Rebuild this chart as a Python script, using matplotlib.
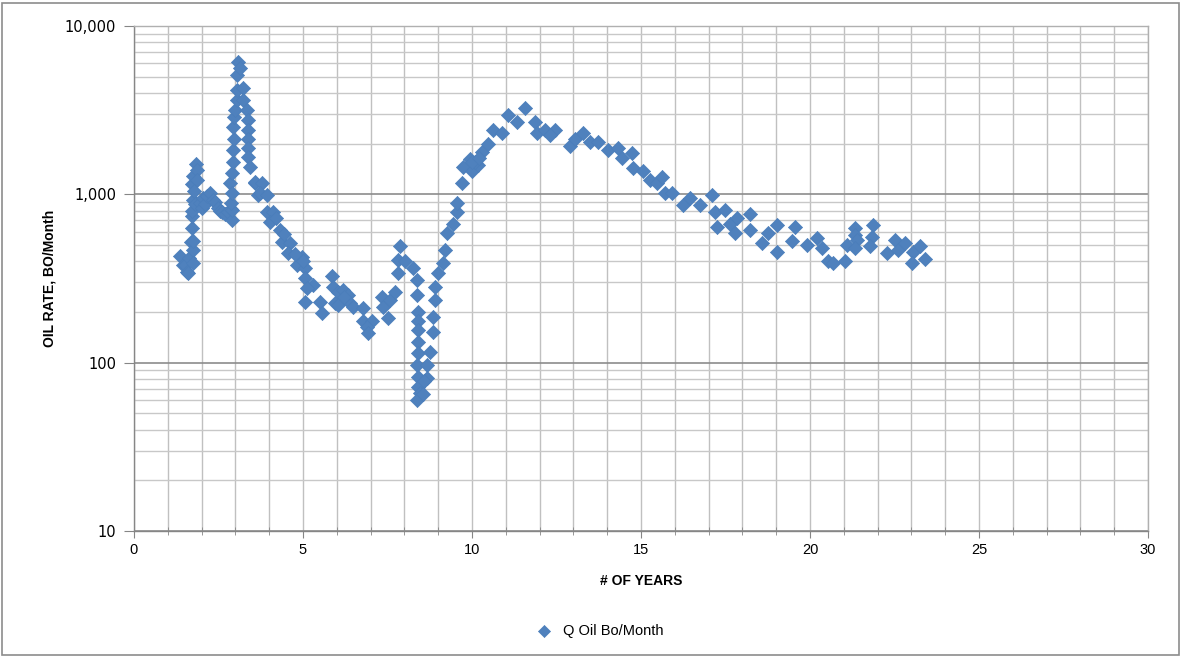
import matplotlib
matplotlib.use("Agg")
import matplotlib.pyplot as plt
from matplotlib.ticker import FixedLocator, LogLocator, NullFormatter, FuncFormatter
from matplotlib.patches import Rectangle

years = [
    1.36, 1.45, 1.51, 1.57, 1.60, 1.63, 1.69, 1.72, 1.72, 1.72, 1.75, 1.72, 1.75, 1.83, 1.86, 1.86,
    1.75, 1.75, 1.75, 1.78, 1.80,
    1.95, 2.01, 2.04, 2.10, 2.16, 2.25, 2.34, 2.40, 2.49, 2.55, 2.60, 2.70, 2.78, 2.87, 2.90,
    2.84, 2.90, 2.88, 2.90, 2.90, 2.93, 2.93, 2.96, 2.93, 2.96, 2.99, 3.05, 3.05, 3.05, 3.08, 3.14,
    3.22, 3.22, 3.34, 3.37, 3.38, 3.37, 3.37, 3.37, 3.43, 3.58, 3.67,
    3.58, 3.79, 3.73, 3.93, 3.93, 4.11, 4.02, 4.20, 4.32, 4.38, 4.62, 4.56, 4.97, 4.82, 5.06, 5.06,
    5.30, 5.12, 5.06, 5.50, 5.56, 5.00, 4.75, 4.45,
    5.86, 5.89, 5.95, 6.04, 6.18, 6.33, 6.04, 6.39, 6.48, 6.78, 6.78, 7.04, 6.89, 6.92, 7.34, 7.37,
    7.51, 7.57, 7.72, 7.87, 7.81, 8.02, 7.81, 6.20,
    8.25, 8.37, 8.37, 8.40, 8.40, 8.40, 8.40, 8.40, 8.37, 8.40, 8.40, 8.46, 8.37, 8.67, 8.67, 8.76,
    8.85, 8.85, 8.90, 8.90, 8.99, 9.14, 9.20, 9.26, 9.44, 8.55, 8.58,
    9.56, 9.56, 9.70, 9.73, 9.99, 9.94, 10.18, 10.10, 10.30, 10.47, 10.62, 10.89, 11.07, 11.33,
    11.57, 11.86, 11.92, 12.16, 12.46, 12.31, 12.90, 13.05, 13.28, 13.49, 13.73, 14.02, 14.32,
    14.44, 14.73, 14.76, 10.00, 10.20,
    15.06, 15.27, 15.47, 15.62, 15.71, 15.92, 16.24, 16.45, 16.75, 17.10, 17.19, 17.49, 17.25,
    17.63, 17.84, 17.78, 18.22, 18.22, 18.58, 18.76, 19.02, 19.02, 19.47, 19.56, 19.91, 20.21,
    20.36, 20.53, 20.68, 21.04, 21.09, 21.33, 21.33, 21.39, 21.33, 21.86, 21.83, 21.77, 22.28,
    22.51, 22.60, 22.81, 23.05, 23.02, 23.25, 23.40,
]

oil_rate = [
    430, 380, 380, 345, 340, 420, 520, 630, 745, 795, 925, 1150, 1280, 1510, 1390, 1210,
    465, 390, 525, 1050, 880,
    890, 830, 950, 880, 980, 1015, 925, 900, 830, 800, 780, 760, 790, 820, 700,
    1170, 810, 890, 1020, 1340, 1550, 1830, 2140, 2500, 2870, 3170, 3640, 4170, 5100, 6100, 5600,
    4270, 3640, 3170, 2770, 2400, 2140, 1880, 1660, 1450, 1170, 990,
    1180, 1170, 1020, 990, 780, 780, 685, 720, 615, 520, 515, 450, 425, 380, 365, 320,
    290, 278, 230, 230, 197, 400, 440, 580,
    325, 283, 226, 263, 270, 252, 220, 225, 214, 210, 178, 178, 163, 151, 245, 214,
    184, 235, 263, 490, 405, 400, 340, 245,
    365, 310, 252, 200, 178, 156, 133, 114, 97, 82, 72, 66, 60, 97, 81, 116,
    152, 187, 235, 280, 340, 390, 465, 590, 670, 65, 78,
    780, 890, 1170, 1450, 1380, 1630, 1490, 1550, 1780, 2000, 2400, 2300, 2950, 2700,
    3240, 2700, 2300, 2400, 2400, 2240, 1950, 2140, 2300, 2040, 2040, 1830, 1880,
    1640, 1760, 1430, 1550, 1650,
    1380, 1210, 1170, 1260, 1020, 1020, 870, 950, 870, 990, 780, 810, 640,
    670, 725, 590, 760, 615, 515, 590, 660, 455, 525, 640, 500, 550,
    480, 400, 390, 400, 500, 630, 570, 535, 480, 660, 555, 490, 450,
    535, 470, 515, 455, 390, 490, 415,
]

series_name = "Q Oil Bo/Month"
x_label = "# OF YEARS"
y_label = "OIL RATE, BO/Month"
x_ticks = [0, 5, 10, 15, 20, 25, 30]
y_ticks = [10, 100, 1000, 10000]

plt.rcParams['font.family'] = ['Liberation Sans', 'DejaVu Sans']

fig = plt.figure(figsize=(11.82, 6.56), dpi=100)
ax = fig.add_axes([134/1182, 1-531/656, (1148-134)/1182, (531-26)/656])

ax.set_yscale('log')
ax.set_xlim(0, 30)
ax.set_ylim(10, 10000)

ax.xaxis.set_major_locator(FixedLocator(x_ticks))
ax.xaxis.set_minor_locator(FixedLocator(list(range(0, 31))))
ax.yaxis.set_major_locator(FixedLocator(y_ticks))
ax.yaxis.set_minor_locator(LogLocator(base=10, subs=range(2, 10)))
ax.yaxis.set_minor_formatter(NullFormatter())
ax.yaxis.set_major_formatter(FuncFormatter(lambda v, p: f"{int(round(v)):,}"))

ax.grid(True, which='minor', axis='x', color='#C0C0C0', linewidth=1.0)
ax.grid(True, which='major', axis='x', color='#C0C0C0', linewidth=1.0)
ax.grid(True, which='minor', axis='y', color='#C8C8C8', linewidth=1.0)
ax.grid(True, which='major', axis='y', color='#8C8C8C', linewidth=1.2)
ax.set_axisbelow(True)

for s in ax.spines.values():
    s.set_color('#B0B0B0')
    s.set_linewidth(1.0)
ax.spines['left'].set_color('#868686')
ax.spines['bottom'].set_color('#868686')

ax.tick_params(axis='both', which='major', direction='out', length=5, color='#868686',
               labelsize=10.5, labelcolor='black', pad=4)
ax.tick_params(axis='x', which='minor', direction='inout', length=6, color='#868686')
ax.tick_params(axis='y', which='minor', length=0)
ax.tick_params(axis='y', which='major', length=7, pad=6)
for lbl in ax.get_yticklabels():
    lbl.set_family(['DejaVu Sans'])
    lbl.set_fontsize(10.5)

ax.scatter(years, oil_rate, marker='D', s=52, color='#4F81BD', edgecolors='#4A7EBB',
           linewidths=0.5, label=series_name, zorder=3)

ax.set_xlabel(x_label, fontsize=10, fontweight='bold', labelpad=12)
ax.set_ylabel(y_label, fontsize=10, fontweight='bold', labelpad=6)

fig.legend(loc='center', bbox_to_anchor=(0.505, 1-631/656), frameon=False, fontsize=10.5,
           handletextpad=0.3, markerscale=0.85)

fig.patches.append(Rectangle((2/1182, 1/656), 1177/1182, 652/656, transform=fig.transFigure,
                             fill=False, edgecolor='#8C8C8C', linewidth=1.2))

fig.savefig("out.png", dpi=100)
